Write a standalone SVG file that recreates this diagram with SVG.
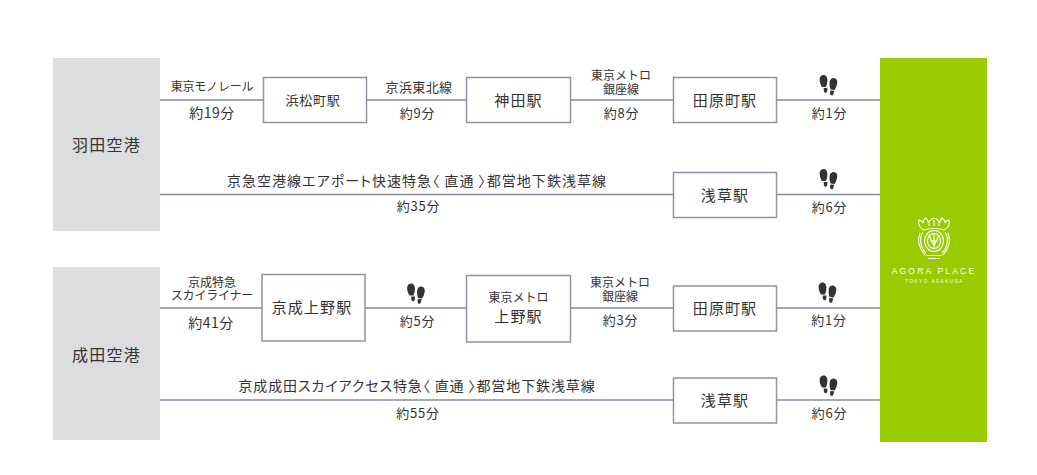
<svg xmlns="http://www.w3.org/2000/svg" xmlns:xlink="http://www.w3.org/1999/xlink" width="1037" height="475" viewBox="0 0 1037 475">
<style>
text{font-family:"Noto Sans CJK JP","Noto Sans",sans-serif;fill:#333;text-anchor:middle;font-weight:400}
.s{font-size:12px}.k{font-size:12px;letter-spacing:-.2px}.t{font-size:13px;letter-spacing:.8px}.r{font-size:14px;letter-spacing:.5px}.n{font-size:15px;letter-spacing:1.1px}.l{font-size:16px;letter-spacing:1.2px}
.long{font-size:14px;font-feature-settings:"palt"}
.st{fill:#fff;stroke:#8e94a3;stroke-width:1.5}
.air{fill:#dcddde}
.c line{stroke:#868c9c;stroke-width:1.5}
.lg{fill:none;stroke:#fff;stroke-width:1.1}
.brand{font-family:"Liberation Sans",sans-serif;fill:#fff}
</style>
<defs>
<g id="feet" fill="#333">
<path d="M-4.800-9.400c2.600 0 3.800 2.600 3.700 5.400-.1 2.600-.8 5.400-1.500 6.400h-3.900c-1.200-1.800-2.500-5-2.400-7.500 .1-2.500 1.600-4.300 4.100-4.300z"/>
<path d="M-4.800 3.600h3.800l-.2 2.700c-.2 1.500-1 2.100-1.800 2-.9-.1-1.600-1-1.700-2.300z"/>
<path d="M4.700-6.600c2.600 0 4.300 1.800 4.100 4.400-.2 2.700-1.400 5.800-2.700 7.600l-4-.4c-.6-1.300-1.100-4-1-6.500 .1-2.800 1.300-5.100 3.600-5.100z"/>
<path d="M1.800 5.900l3.900.4-.7 2.600c-.4 1.400-1.200 2-2.100 1.800-.9-.2-1.400-1.100-1.300-2.300z"/>
</g>
</defs>
<g class="c">
<line x1="160" y1="100" x2="880" y2="100"/>
<line x1="160" y1="194.500" x2="880" y2="194.500"/>
<line x1="160" y1="308" x2="880" y2="308"/>
<line x1="160" y1="400" x2="880" y2="400"/>
</g>
<g id="haneda"><rect class="air" x="53" y="58" width="107" height="173"/><text class="l" x="106.500" y="151">羽田空港</text></g>
<g id="narita"><rect class="air" x="53" y="267" width="107" height="173"/><text class="l" x="106.500" y="361">成田空港</text></g>
<g id="hotel"><rect x="880" y="58" width="107" height="384" fill="#99cc00"/>
<g class="lg">
<ellipse cx="934" cy="241" rx="9.500" ry="10.500"/>
<ellipse cx="934" cy="241" rx="6.500" ry="7.500"/>
<path d="M923 232c-4 6-3 15 3 21M945 232c4 6 3 15-3 21M920 233c-3 7-1 15 5 22M948 233c3 7 1 15-5 22"/>
<path d="M926 255.500h16M928 258.500h12"/>
<path d="M924 230c-4-2-6-6-5-10 2 0 3 1 4 3 0-2 1-4 3-5 1 1 2 3 2 5 1-3 3-4 6-5 3 1 5 2 6 5 0-2 1-4 2-5 2 1 3 3 3 5 1-2 2-3 4-3 1 4-1 8-5 10-5-2-15-2-20 0z"/>
<path d="M929 226v-5M934 226v-6M939 226v-5"/>
<path d="M929 235l5 11 5-11M934 233v16M930 241h8"/>
</g>
<text class="brand" x="934" y="274" style="font-size:8.500px;letter-spacing:2.200px">AGORA PLACE</text>
<text class="brand" x="934.500" y="282.500" style="font-size:4.500px;letter-spacing:1.600px">TOKYO ASAKUSA</text>
</g>
<g id="st1"><rect class="st" x="263.500" y="77.500" width="103" height="45"/><text class="t" x="313" y="105">浜松町駅</text></g>
<g id="st2"><rect class="st" x="466.500" y="77.500" width="104" height="45"/><text class="n" x="518.500" y="106">神田駅</text></g>
<g id="st3"><rect class="st" x="673.500" y="77.500" width="103" height="45"/><text class="n" x="725" y="106">田原町駅</text></g>
<g id="st4"><rect class="st" x="673.500" y="172.500" width="103" height="45"/><text class="n" x="725" y="200.500">浅草駅</text></g>
<g id="st5"><rect class="st" x="262" y="274.500" width="103" height="66.500"/><text class="n" x="312" y="313">京成上野駅</text></g>
<g id="st6"><rect class="st" x="466.500" y="275.500" width="104" height="66.500"/><text class="s" x="518.500" y="302">東京メトロ</text><text class="n" x="518.500" y="322">上野駅</text></g>
<g id="st7"><rect class="st" x="673.500" y="286" width="103" height="45"/><text class="n" x="725" y="314">田原町駅</text></g>
<g id="st8"><rect class="st" x="673.500" y="378" width="103" height="45"/><text class="n" x="725" y="406">浅草駅</text></g>
<g id="labels">
<text class="k" x="212" y="91">東京モノレール</text>
<text class="r" x="212" y="118">約19分</text>
<text class="t" x="419" y="92" style="letter-spacing:.4px">京浜東北線</text>
<text class="t" x="417.500" y="118">約9分</text>
<text class="s" x="621" y="80">東京メトロ</text>
<text class="s" x="621" y="94">銀座線</text>
<text class="t" x="621.500" y="118">約8分</text>
<text class="t" x="829.500" y="118">約1分</text>
<text class="long" x="417" y="186" style="letter-spacing:1.050px">京急空港線エアポート快速特急〈 直通 〉都営地下鉄浅草線</text>
<text class="t" x="418.500" y="211">約35分</text>
<text class="t" x="829.500" y="212">約6分</text>
<text class="s" x="212" y="287">京成特急</text>
<text class="k" x="212" y="300">スカイライナー</text>
<text class="r" x="211" y="328">約41分</text>
<text class="t" x="417.500" y="326">約5分</text>
<text class="s" x="620" y="287">東京メトロ</text>
<text class="s" x="620" y="301">銀座線</text>
<text class="t" x="620.500" y="325">約3分</text>
<text class="t" x="829" y="325">約1分</text>
<text class="long" x="417" y="391" style="letter-spacing:.9px">京成成田スカイアクセス特急〈 直通 〉都営地下鉄浅草線</text>
<text class="t" x="418" y="418">約55分</text>
<text class="t" x="829.500" y="418">約6分</text>
</g>
<g id="walk">
<use xlink:href="#feet" href="#feet" x="828.500" y="84.500"/>
<use xlink:href="#feet" href="#feet" x="828.500" y="178.500"/>
<use xlink:href="#feet" href="#feet" x="827.500" y="292"/>
<use xlink:href="#feet" href="#feet" x="828.500" y="385"/>
<use xlink:href="#feet" href="#feet" x="416" y="293"/>
</g>
</svg>
